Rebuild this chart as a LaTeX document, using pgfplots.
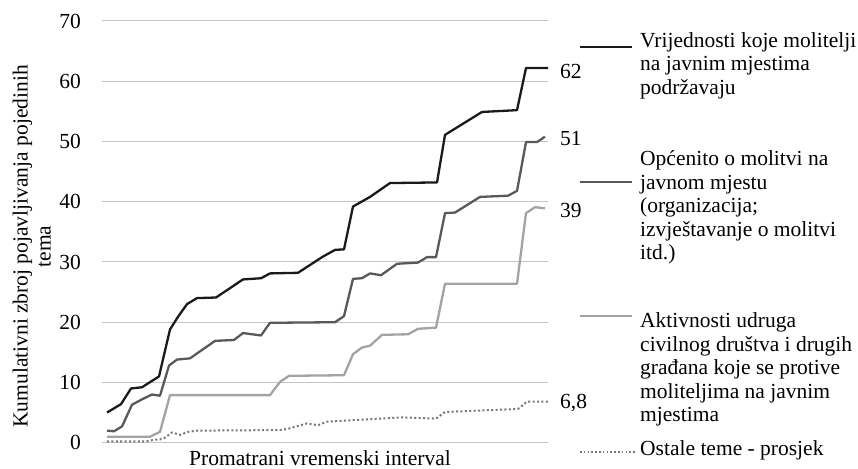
\documentclass[border=0pt]{standalone}
\usepackage{fontspec}
\setmainfont{Liberation Serif}
\usepackage{pgfplots}
\pgfplotsset{compat=1.18}
\definecolor{cA}{HTML}{1A1A1A}
\definecolor{cB}{HTML}{595959}
\definecolor{cC}{HTML}{A3A3A3}
\definecolor{cD}{HTML}{777777}
\definecolor{cGrid}{HTML}{C4C4C4}
\begin{document}
\fontsize{21.5bp}{23.5bp}\selectfont
\begin{tikzpicture}[x=1bp,y=1bp]
\path[use as bounding box] (0,0) rectangle (858,469);
\begin{axis}[
  at={(101.7bp,26.3bp)}, anchor=south west, scale only axis,
  width=446.6bp, height=421.7bp,
  xmin=1.7, xmax=448.3, ymin=0, ymax=70,
  ytick={0,10,...,70}, xtick=\empty,
  ymajorgrids, grid style={draw=cGrid, line width=1bp},
  axis line style={draw=none}, major tick length=0pt,
  yticklabel style={xshift=-13.5bp},
  /pgf/number format/assume math mode=true,
  clip=false,
  every axis plot/.append style={line join=round},
]
% Vrijednosti koje molitelji ...
\addplot[cA, line width=2.3bp] coordinates {
(7,5.0) (21,6.4) (31,9.0) (42,9.2) (59,11.0) (70,18.8) (78,20.9) (87,23.0) (97,24.0) (116,24.1) (125,25.1) (143,27.1) (161,27.3) (170,28.1) (198,28.2) (210,29.5) (223,30.9) (235,32.0) (244,32.1) (253,39.2) (270,40.8) (290,43.1) (337,43.2) (345,51.1) (382,54.9) (417,55.2) (426,62.2) (448,62.2)
};
% Opcenito o molitvi ...
\addplot[cB, line width=2.3bp] coordinates {
(7,2.0) (14,1.9) (22,2.7) (32,6.3) (42,7.2) (52,8.0) (60,7.8) (69,12.8) (77,13.8) (90,14.0) (115,16.9) (134,17.05) (143,18.2) (161,17.8) (170,19.9) (235,20.0) (244,21.0) (253,27.2) (262,27.3) (270,28.1) (281,27.8) (297,29.7) (318,29.9) (327,30.8) (336,30.8) (345,38.1) (355,38.2) (380,40.8) (408,41.0) (417,41.8) (426,49.9) (437,49.9) (445,50.8)
};
% Aktivnosti udruga ...
\addplot[cC, line width=2.3bp] coordinates {
(7,1.0) (50,1.0) (60,1.8) (70,7.9) (170,7.9) (180,10.1) (189,11.1) (244,11.2) (253,14.7) (262,15.8) (270,16.1) (282,17.9) (308,18.0) (318,18.9) (336,19.1) (345,26.4) (417,26.4) (426,38.1) (435,39.1) (445,38.9)
};
% Ostale teme - prosjek
\addplot[cD, line width=2bp, dash pattern=on 2bp off 2.4bp] coordinates {
(7,0.2) (45,0.2) (55,0.5) (63,0.6) (72,1.7) (80,1.3) (88,1.8) (97,2.0) (180,2.1) (188,2.3) (207,3.2) (218,2.9) (227,3.5) (303,4.2) (336,4.0) (345,5.1) (418,5.6) (427,6.8) (448,6.8)
};
\node[anchor=base west, inner sep=0, yshift=-7.3bp] at (axis cs:460,61.6) {62};
\node[anchor=base west, inner sep=0, yshift=-7.3bp] at (axis cs:460,50.5) {51};
\node[anchor=base west, inner sep=0, yshift=-7.3bp] at (axis cs:460,38.6) {39};
\node[anchor=base west, inner sep=0, yshift=-7.3bp] at (axis cs:460,6.84) {6,8};
\end{axis}
% axis titles
\node[rotate=90, anchor=base, inner sep=0] at (27.5,222.5) {Kumulativni zbroj pojavljivanja pojedinih};
\node[rotate=90, anchor=base, inner sep=0] at (50.5,222.5) {tema};
\node[anchor=base, inner sep=0] at (320,3.5) {Promatrani vremenski interval};
% legend
\draw[cA, line width=2.3bp] (580,422.3) -- (632,422.3);
\draw[cB, line width=2.3bp] (580,287.3) -- (632,287.3);
\draw[cC, line width=2.3bp] (580,153) -- (632,153);
\draw[cD, line width=1.6bp, dash pattern=on 1.6bp off 2.2bp] (580,17) -- (637,17);
\begin{scope}[every node/.style={anchor=base west, inner sep=0}]
\node at (640,421.5) {Vrijednosti koje molitelji};
\node at (640,398) {na javnim mjestima};
\node at (640,374.5) {podržavaju};
\node at (640,303.2) {Općenito o molitvi na};
\node at (640,279.7) {javnom mjestu};
\node at (640,256.2) {(organizacija;};
\node at (640,232.7) {izvještavanje o molitvi};
\node at (640,209.2) {itd.)};
\node at (640,141.3) {Aktivnosti udruga};
\node at (640,117.8) {civilnog društva i drugih};
\node at (640,94.3) {građana koje se protive};
\node at (640,70.8) {moliteljima na javnim};
\node at (640,47.3) {mjestima};
\node at (640,13) {Ostale teme - prosjek};
\end{scope}
\end{tikzpicture}
\end{document}
